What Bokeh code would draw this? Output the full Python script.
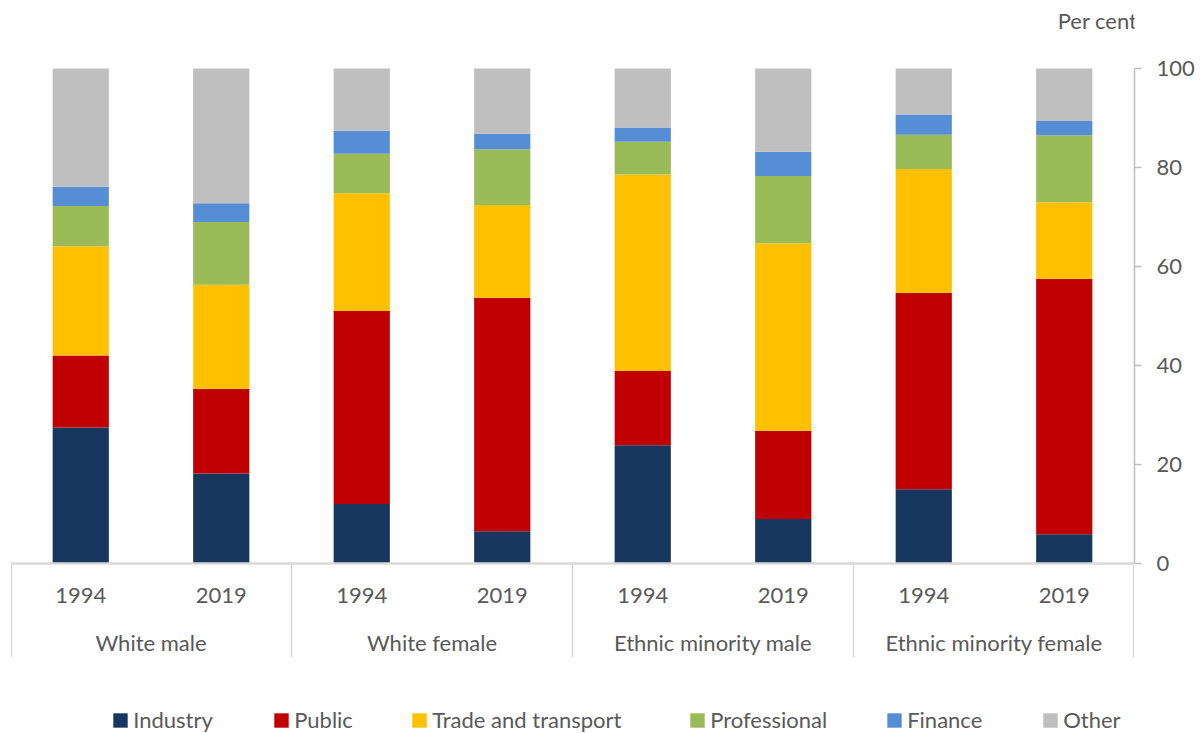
from bokeh.plotting import figure
from bokeh.models import ColumnDataSource, Range1d, FixedTicker, Label, Span, Legend, LegendItem
from bokeh.core.properties import value
from bokeh.embed import file_html
from bokeh.resources import INLINE

# ---- data ----
groups = ["White male", "White female", "Ethnic minority male", "Ethnic minority female"]
years = ["1994", "2019"]
sectors = ["Industry", "Public", "Trade and transport", "Professional", "Finance", "Other"]
industry = [27.5, 18.2, 12.0, 6.5, 23.9, 9.0, 15.0, 5.9]
public = [14.5, 17.1, 39.0, 47.2, 15.0, 17.8, 39.7, 51.6]
trade = [22.1, 21.0, 23.8, 18.7, 39.7, 37.9, 25.0, 15.5]
professional = [8.1, 12.7, 8.0, 11.3, 6.6, 13.6, 6.9, 13.5]
finance = [3.9, 3.8, 4.6, 3.1, 2.9, 4.9, 4.1, 2.9]
other = [23.9, 27.2, 12.6, 13.2, 11.9, 16.8, 9.3, 10.6]
y_ticks = [0, 20, 40, 60, 80, 100]

colors = ["#17375E", "#C00000", "#FFC000", "#9BBB59", "#558ED5", "#BFBFBF"]
legend_px = [113, 274, 412, 690, 887, 1043]   # legend swatch left edges (layout)
FONT = "Lato"
TXT = "#595959"
FS = "22px"

n = len(groups) * len(years)
xs = [i + 0.5 for i in range(n)]
src = ColumnDataSource(dict(x=xs, Industry=industry, Public=public,
                            Trade=trade, Professional=professional,
                            Finance=finance, Other=other))
keys = ["Industry", "Public", "Trade", "Professional", "Finance", "Other"]

p = figure(width=1200, height=733, output_backend="svg", toolbar_location=None,
           x_range=Range1d(0, n), y_range=Range1d(-34.343, 113.737),
           x_axis_location=None, y_axis_location="right",
           min_border_left=10, min_border_right=66, min_border_top=0, min_border_bottom=0)
p.outline_line_color = None
p.xgrid.visible = False
p.ygrid.visible = False
p.background_fill_color = "white"

rs = p.vbar_stack(keys, x="x", width=0.4, color=colors, line_color=None, source=src)

# right axis
ax = p.yaxis[0]
ax.ticker = FixedTicker(ticks=y_ticks)
ax.bounds = (0, 100)
ax.axis_line_color = "#BFBFBF"
ax.axis_line_width = 1.5
ax.major_tick_line_color = "#BFBFBF"
ax.major_tick_line_width = 1.5
ax.major_tick_out = 7
ax.major_tick_in = 0
ax.minor_tick_line_color = None
ax.major_label_standoff = 15
ax.major_label_text_font = FONT
ax.major_label_text_font_size = FS
ax.major_label_text_color = TXT

# x axis baseline and category separators
p.add_layout(Span(location=0, dimension="width", line_color="#D9D9D9", line_width=2.5))
eps = 1.0 / 140.5
sep_x = [0 + eps] + [2 * (g + 1) for g in range(len(groups) - 1)] + [n - eps]
p.segment(x0=sep_x, y0=[0] * len(sep_x), x1=sep_x, y1=[-19] * len(sep_x),
          line_color="#D9D9D9", line_width=1.5)

# category labels
year_src = ColumnDataSource(dict(x=xs, y=[-6.46] * n, t=years * len(groups)))
p.text(x="x", y="y", text="t", source=year_src, text_align="center",
       text_baseline="middle", text_font=value(FONT), text_font_size=FS, text_color=TXT)
grp_src = ColumnDataSource(dict(x=[2 * g + 1 for g in range(len(groups))],
                                y=[-15.96] * len(groups), t=groups))
p.text(x="x", y="y", text="t", source=grp_src, text_align="center",
       text_baseline="middle", text_font=value(FONT), text_font_size=FS, text_color=TXT)

# unit label
p.add_layout(Label(x=7.737, y=109.7, text="Per cent", text_align="center",
                   text_baseline="middle", text_font=FONT, text_font_size=FS,
                   text_color=TXT))

# legend: one entry per sector, each placed at its own position
for r, lab, px in zip(rs, sectors, legend_px):
    lg = Legend(items=[LegendItem(label=lab, renderers=[r])],
                location=(px - 10 - 1.8, 0), orientation="horizontal",
                padding=0, margin=0, spacing=0, glyph_width=18, glyph_height=18,
                label_standoff=4, label_height=18, border_line_color=None,
                background_fill_alpha=0, label_text_font=FONT,
                label_text_font_size=FS, label_text_color=TXT)
    p.add_layout(lg)

open("out.html", "w").write(file_html(p, INLINE))
